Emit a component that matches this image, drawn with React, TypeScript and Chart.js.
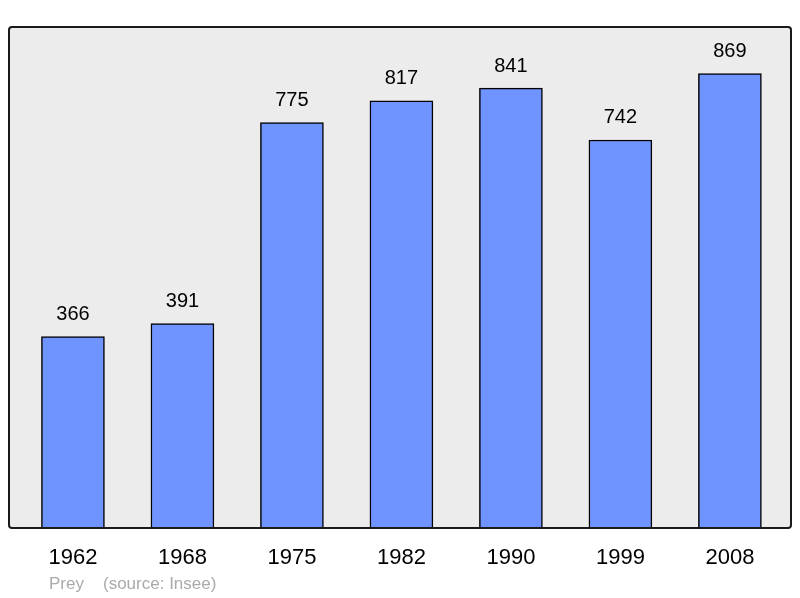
import React, { useEffect, useRef } from "react";
import { Chart, registerables } from "chart.js";

Chart.register(...registerables);

const years = ["1962", "1968", "1975", "1982", "1990", "1999", "2008"];
const population = [366, 391, 775, 817, 841, 742, 869];
const footerName = "Prey";
const footerSource = "(source: Insee)";

const FONT = "'Liberation Sans', Arial, sans-serif";

export default function App() {
  const ref = useRef<HTMLCanvasElement | null>(null);

  useEffect(() => {
    document.body.style.margin = "0";
    const canvas = ref.current;
    if (!canvas) return;

    const boxPlugin = {
      id: "boxPlugin",
      beforeDatasetsDraw(chart: any) {
        const { ctx, chartArea } = chart;
        const { left, top, right, bottom } = chartArea;
        ctx.save();
        ctx.beginPath();
        ctx.roundRect(left, top, right - left, bottom - top, 3);
        ctx.fillStyle = "#ececec";
        ctx.fill();
        ctx.restore();
      },
      afterDatasetsDraw(chart: any) {
        const { ctx, chartArea } = chart;
        const { left, top, right, bottom } = chartArea;
        ctx.save();
        ctx.beginPath();
        ctx.roundRect(left, top, right - left, bottom - top, 3);
        ctx.lineWidth = 2;
        ctx.strokeStyle = "#1a1a1a";
        ctx.stroke();

        // value labels
        const meta = chart.getDatasetMeta(0);
        ctx.fillStyle = "#000";
        ctx.font = `20px ${FONT}`;
        ctx.textAlign = "center";
        ctx.textBaseline = "middle";
        meta.data.forEach((bar: any, i: number) => {
          ctx.fillText(String(population[i]), bar.x, bar.y - 22);
        });

        // footer
        ctx.fillStyle = "#aaaaaa";
        ctx.font = `17px ${FONT}`;
        ctx.textAlign = "left";
        ctx.textBaseline = "middle";
        ctx.fillText(footerName, left + 40, bottom + 56);
        ctx.fillText(footerSource, left + 94, bottom + 56);
        ctx.restore();
      },
    };

    const chart = new Chart(canvas, {
      type: "bar",
      data: {
        datasets: [
          {
            data: population.map((v, i) => ({ x: i, y: v })),
            backgroundColor: "#7094ff",
            borderColor: "#000",
            borderWidth: 1.5,
            barThickness: 63,
          },
        ],
      },
      options: {
        responsive: false,
        animation: false,
        layout: { padding: { left: 9, right: 9, top: 27, bottom: 0 } },
        plugins: {
          legend: { display: false },
          tooltip: { enabled: false },
        },
        scales: {
          x: {
            type: "linear",
            offset: false,
            min: -0.584,
            max: 6.558,
            grid: { display: false, drawTicks: false, offset: false },
            border: { display: false },
            afterBuildTicks: (scale: any) => {
              scale.ticks = years.map((_, i) => ({ value: i }));
            },
            afterFit: (scale: any) => {
              scale.height = 70;
            },
            ticks: {
              autoSkip: false,
              maxRotation: 0,
              padding: 17,
              color: "#000",
              font: { family: FONT, size: 22 },
              callback: (v: any) => years[v as number] ?? "",
            },
          },
          y: {
            display: false,
            min: 0,
            max: 958,
          },
        },
      },
      plugins: [boxPlugin],
    } as any);

    return () => chart.destroy();
  }, []);

  return (
    <div style={{ position: "absolute", left: 0, top: 0, width: 800, height: 598 }}>
      <canvas ref={ref} width={800} height={598} />
    </div>
  );
}
